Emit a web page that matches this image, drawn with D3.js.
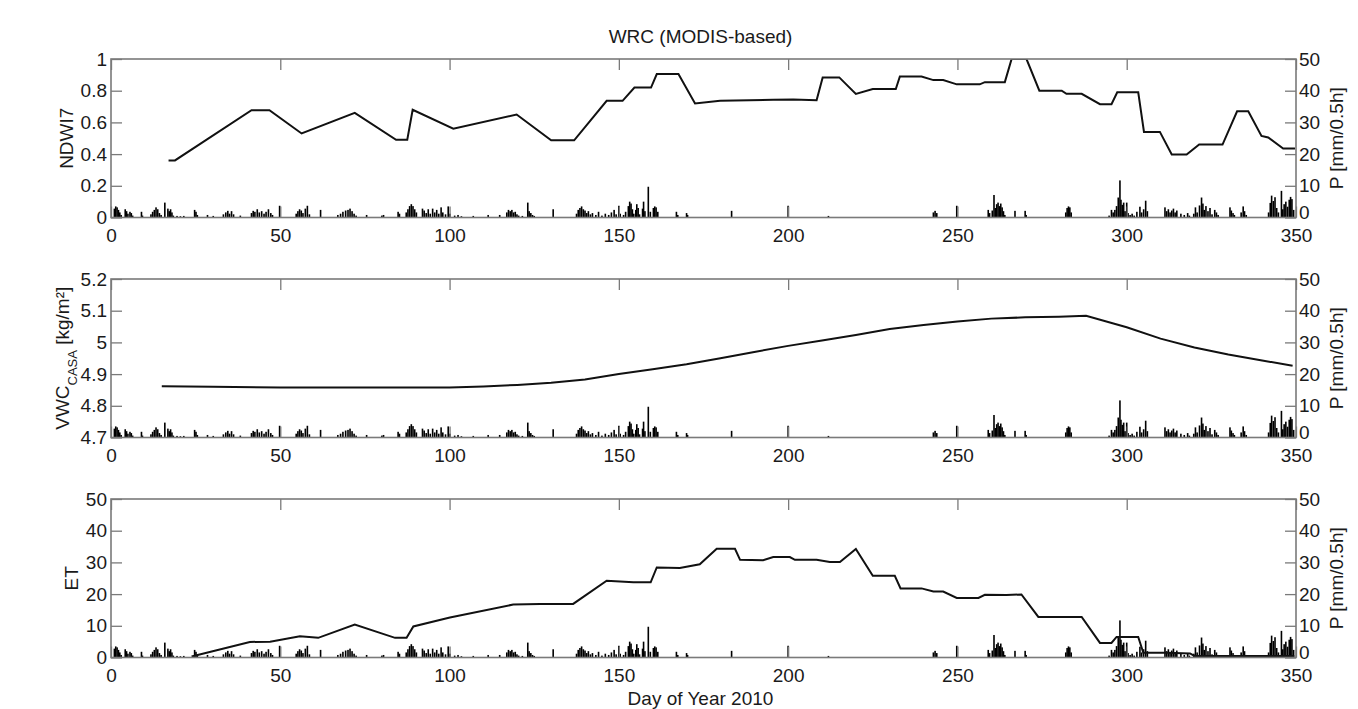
<!DOCTYPE html>
<html>
<head>
<meta charset="utf-8">
<script src="https://cdn.jsdelivr.net/npm/d3@7"></script>
<style>
body {margin:0; background:#fff}
text {font-family:"Liberation Sans", Arial, sans-serif; fill:#1a1a1a}
</style>
</head>
<body>
<div id="my_viz"></div>
<script>
// NDWI7 (top panel)
const ndwiDay = [17,18.9,41.5,46.8,56.3,72,84.2,87.5,89.1,101.1,119.8,130,136.8,146.4,151.1,154.6,159.5,161.2,167.6,172.5,179.9,195.6,201.5,208.4,210.2,215.1,220,225,231.8,233,239.4,242.9,245.8,249.8,256.6,258.1,264,266,270.4,274.2,280.8,282.2,286.7,292.1,295.5,297.2,303.4,305.1,309.8,313.3,317.7,321.4,328.3,332.6,335.9,339.8,341.8,346.2,349.7]
const ndwiVal = [0.36,0.36,0.677,0.677,0.53,0.66,0.49,0.49,0.68,0.56,0.65,0.487,0.487,0.736,0.736,0.82,0.82,0.905,0.905,0.72,0.736,0.743,0.745,0.74,0.884,0.884,0.78,0.81,0.81,0.89,0.89,0.867,0.867,0.84,0.84,0.854,0.854,1,1,0.8,0.8,0.78,0.78,0.715,0.715,0.79,0.79,0.54,0.54,0.397,0.397,0.46,0.46,0.67,0.67,0.515,0.505,0.435,0.435]

// VWC CASA (middle panel)
const vwcDay = [15,30,50,75,100,110,120,130,140,150,160,170,180,190,200,210,220,230,240,250,260,270,280,288,300,310,320,330,340,349]
const vwcVal = [4.862,4.86,4.858,4.858,4.858,4.861,4.866,4.873,4.883,4.9,4.915,4.931,4.95,4.97,4.989,5.006,5.023,5.042,5.055,5.066,5.075,5.079,5.081,5.084,5.048,5.012,4.984,4.962,4.943,4.926]

// ET (bottom panel)
const etDay = [23.8,41,47,55.8,61.2,72,83.9,87.3,89.3,100.1,118.8,126.7,136.5,146.4,154.3,159.4,161.2,168,173.9,178.9,184.3,185.8,192.6,195.6,200.5,202,208.4,212.3,215.3,220,225,231.5,233.2,239.4,242.9,245.8,249.8,256.2,258.1,264.5,268.9,273.9,286.7,292.1,295.5,297,303.4,304.9,311.9,318.7,320,349.5]
const etVal = [0.3,4.9,5,6.7,6.2,10.4,6.2,6.2,9.8,12.6,16.7,16.9,16.9,24.2,23.7,23.7,28.4,28.2,29.4,34.3,34.3,30.8,30.7,31.7,31.7,30.8,30.8,30.1,30.1,34.2,25.8,25.8,21.8,21.8,20.8,20.8,18.8,18.8,19.8,19.7,19.9,12.8,12.8,4.6,4.6,6.5,6.5,1.5,1.5,1.3,0.5,0.5]

// precipitation [day, mm/0.5h], same in every panel
const precip = [
[1.0,2.8],[1.4,3.5],[1.8,3.2],[2.2,2.4],[2.6,1.6],[3.0,0.8],
[4.2,2.6],[4.6,2.0],[5.0,1.2],[5.6,1.8],[6.0,1.4],[6.4,0.6],
[9.0,1.8],[9.3,0.6],
[11.8,1.0],[12.3,1.8],[12.8,2.4],[13.3,3.2],[13.8,2.6],[14.3,1.4],[14.8,0.8],[15.9,4.7],
[16.8,2.8],[17.2,2.0],[17.6,2.6],[18.0,1.6],[18.4,0.6],
[19.5,0.5],[20.5,0.4],[21.5,0.5],
[24.7,2.4],[25.1,1.8],[25.5,0.8],[28.5,0.8],[30.2,0.5],
[33.2,1.0],[33.9,1.6],[34.5,2.1],[35.0,1.2],[35.6,2.0],[36.2,1.0],[38.2,0.6],
[41.5,1.4],[42.0,2.1],[42.5,1.8],[43.2,2.6],[43.8,1.6],[44.5,2.0],[45.2,1.2],[45.8,1.8],[46.5,2.6],[47.2,1.4],[47.7,0.8],
[49.8,3.7],
[54.7,1.2],[55.2,2.0],[55.7,2.6],[56.2,2.2],[56.7,1.4],[57.4,2.8],[58.0,3.7],[58.6,1.0],
[61.9,2.4],
[67.0,0.8],[67.8,1.2],[68.5,1.8],[69.3,2.2],[70.0,2.4],[70.6,2.8],[71.2,2.0],[71.8,1.2],[72.4,0.6],
[75.5,0.8],[80.0,0.6],[80.5,0.8],[84.8,1.8],[85.2,1.2],
[87.2,1.6],[87.7,2.6],[88.2,3.6],[88.7,4.2],[89.2,3.6],[89.7,2.6],[90.2,1.6],
[92.0,2.8],[92.5,2.2],[93.1,1.4],[93.7,2.6],[94.3,1.2],[95.0,2.8],[95.6,1.6],[96.2,2.4],[96.8,1.2],[97.5,3.2],[98.0,1.6],[98.8,1.0],[99.6,3.5],[100.1,1.2],
[101.5,0.6],[102.5,0.8],[103.5,0.4],[107.0,0.5],[111.4,0.8],[114.8,0.8],
[116.9,1.6],[117.4,2.4],[117.9,2.0],[118.4,2.4],[118.9,1.6],[119.4,1.8],[119.9,1.0],[120.4,0.6],
[121.5,0.5],[123.1,4.7],[123.5,2.0],[124.0,1.4],[124.5,0.8],[125.0,0.5],
[130.6,2.6],
[137.5,1.2],[138.0,2.4],[138.5,3.0],[139.0,3.5],[139.5,2.6],[140.0,2.2],[140.5,1.4],[141.0,2.0],[141.6,1.0],[142.2,1.4],
[143.2,0.8],[144.0,1.8],[145.0,0.6],[146.0,1.2],[147.0,0.8],[147.8,1.6],[148.6,2.4],[149.2,1.0],[150.0,3.7],[150.4,1.2],
[151.4,0.8],[152.0,1.8],[152.8,3.6],[153.2,5.0],[153.6,4.4],[154.0,2.6],[154.4,1.2],
[155.0,2.4],[155.3,4.2],[155.7,3.0],[156.1,1.0],[157.0,2.8],[157.3,5.0],[157.7,2.0],
[158.7,9.7],[159.3,1.8],[160.2,3.0],[160.6,3.5],[161.0,3.2],[161.5,1.8],
[167.0,1.8],[167.4,0.8],[170.0,1.4],[170.3,0.8],[183.3,2.1],[200.0,3.7],[211.9,0.5],
[242.9,1.6],[243.4,2.1],[243.9,1.4],[249.8,3.7],
[259.1,2.4],[259.5,1.4],[260.3,2.2],[260.8,7.1],[261.2,3.0],[261.6,4.2],[262.0,4.7],[262.4,3.6],[262.8,4.4],[263.2,3.2],[263.6,2.0],[264.0,0.8],
[267.0,2.1],[270.0,2.1],[270.3,0.8],
[282.0,1.6],[282.4,3.0],[282.8,3.5],[283.2,3.2],[283.6,1.6],
[294.8,0.6],[295.5,2.4],[296.0,1.6],[296.5,2.4],[297.0,3.6],[297.5,6.3],[298.0,11.7],[298.3,5.6],[298.7,4.0],[299.1,4.7],[299.5,2.0],[300.0,4.7],[300.4,1.4],
[301.0,0.8],[301.6,1.2],[302.2,0.6],[303.0,1.8],[303.9,3.4],[304.4,1.6],[305.0,2.6],[305.6,5.3],[306.1,2.0],
[311.3,3.2],[311.8,2.0],[312.3,2.6],[312.8,1.6],[313.3,2.2],[313.8,2.8],[314.3,1.6],[314.8,2.2],
[316.0,1.2],[317.0,0.8],[318.0,1.4],[318.5,0.6],
[319.8,1.2],[320.3,3.2],[320.8,1.6],[321.5,3.8],[322.1,6.3],[322.5,4.4],[322.9,2.4],[323.4,3.6],[324.0,2.0],[324.6,3.0],[325.2,1.0],
[326.0,2.4],[326.5,1.6],[327.0,0.8],
[330.5,3.2],[330.9,2.2],[331.4,1.4],[331.8,0.8],
[333.8,1.6],[334.4,3.5],[334.8,2.0],[335.3,0.8],
[341.9,1.6],[342.4,4.6],[342.8,6.9],[343.3,5.2],[343.8,6.4],[344.3,3.0],[344.8,1.6],
[345.7,8.4],[346.1,2.6],[346.5,4.2],[347.0,5.0],[347.5,3.4],[348.0,5.6],[348.4,6.5],[348.8,5.8],[349.3,2.4]
]

const xTicks = [0,50,100,150,200,250,300,350]
const pTicks = [0,10,20,30,40,50]

const width = 1358
const height = 709
const margin = {left:111, right:62}
const plotW = width - margin.left - margin.right
const panelH = 158.5
const panelTops = [59, 279, 499]
const frameColor = "#7a7a7a"
const fontSize = "19px"

var svg = d3.select("#my_viz")
.append("svg")
.attr("width", width)
.attr("height", height)

var x = d3.scaleLinear().domain([0, 350]).range([0, plotW])

svg.append("text")
.attr("x", margin.left + plotW / 2 - 3)
.attr("y", 43)
.attr("text-anchor", "middle")
.style("font-size", fontSize)
.text("WRC (MODIS-based)")

var panels = [
	{day: ndwiDay, val: ndwiVal, domain: [0, 1], ticks: [0,0.2,0.4,0.6,0.8,1], label: "NDWI7", labelX: -38},
	{day: vwcDay, val: vwcVal, domain: [4.7, 5.2], ticks: [4.7,4.8,4.9,5,5.1,5.2], label: "VWC", labelX: -42},
	{day: etDay, val: etVal, domain: [0, 50], ticks: [0,10,20,30,40,50], label: "ET", labelX: -33}
]

panels.forEach(function(p, i) {
	var g = svg.append("g")
	.attr("transform", "translate(" + margin.left + "," + panelTops[i] + ")")

	var y = d3.scaleLinear().domain(p.domain).range([panelH, 0])
	var yP = d3.scaleLinear().domain([0, 50]).range([panelH, 0])

	g.append("clipPath").attr("id", "clip" + i)
	.append("rect").attr("width", plotW).attr("height", panelH)

	// precipitation bars
	g.append("g")
	.selectAll("rect")
	.data(precip)
	.enter()
	.append("rect")
	.attr("x", d => x(d[0]) - 0.8)
	.attr("width", 1.6)
	.attr("y", d => yP(d[1]))
	.attr("height", d => panelH - yP(d[1]))
	.attr("fill", "#000")

	// main series
	var line = d3.line()
	.x(d => x(d[0]))
	.y(d => y(d[1]))
	g.append("path")
	.attr("clip-path", "url(#clip" + i + ")")
	.attr("d", line(d3.zip(p.day, p.val)))
	.attr("fill", "none")
	.attr("stroke", "#111")
	.attr("stroke-width", 2)

	// axes with inward ticks
	var axB = g.append("g")
	.attr("transform", "translate(0," + panelH + ")")
	.call(d3.axisBottom(x).tickValues(xTicks).tickSize(-11).tickPadding(11))
	var axT = g.append("g")
	.call(d3.axisTop(x).tickValues(xTicks).tickSize(-11).tickFormat(""))
	var axL = g.append("g")
	.call(d3.axisLeft(y).tickValues(p.ticks).tickSize(-11).tickPadding(4).tickFormat(d => d))
	var axR = g.append("g")
	.attr("transform", "translate(" + plotW + ",0)")
	.call(d3.axisRight(yP).tickValues(pTicks).tickSize(-11).tickPadding(3))

	;[axB, axT, axL, axR].forEach(function(a) {
		a.select(".domain").remove()
		a.selectAll(".tick line").attr("stroke", frameColor).attr("stroke-width", 1.3)
		a.selectAll(".tick text").style("font-size", fontSize).style("font-family", "Liberation Sans, Arial, sans-serif").attr("fill", "#1a1a1a")
	})
	// lift the right-hand zero a little off the day labels
	axR.selectAll(".tick text").filter(d => d == 0).attr("dy", "0.05em")

	g.append("rect")
	.attr("width", plotW)
	.attr("height", panelH)
	.attr("fill", "none")
	.attr("stroke", frameColor)
	.attr("stroke-width", 1.6)

	// left label
	var lab = g.append("text")
	.attr("transform", "translate(" + p.labelX + "," + (panelH / 2) + ") rotate(-90)")
	.attr("text-anchor", "middle")
	.style("font-size", fontSize)
	lab.append("tspan").text(p.label)
	if (i == 1) {
		lab.append("tspan").attr("baseline-shift", "sub").style("font-size", "13px").text("CASA")
		lab.append("tspan").text(" [kg/m²]")
	}

	// right label
	g.append("text")
	.attr("transform", "translate(" + (plotW + 47) + "," + (panelH / 2) + ") rotate(-90)")
	.attr("text-anchor", "middle")
	.style("font-size", fontSize)
	.text("P [mm/0.5h]")
})

svg.append("text")
.attr("x", margin.left + plotW / 2 - 3)
.attr("y", 705)
.attr("text-anchor", "middle")
.style("font-size", fontSize)
.text("Day of Year 2010")
</script>
</body>
</html>
